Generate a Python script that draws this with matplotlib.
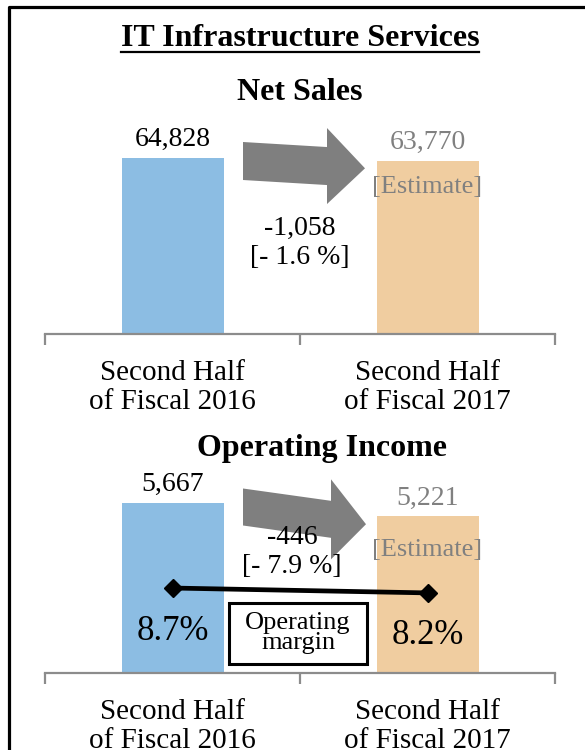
import numpy as np
import matplotlib.pyplot as plt
from matplotlib.patches import Polygon, Rectangle
from matplotlib.lines import Line2D

periods = ['Second Half\nof Fiscal 2016', 'Second Half\nof Fiscal 2017']
net_sales = [64828, 63770]
op_income = [5667, 5221]
op_margin = [8.7, 8.2]

BLUE = '#8CBDE3'
TAN = '#F0CDA0'
GREY = '#808080'
AXIS = '#8C8C8C'

plt.rcParams['font.family'] = ['Liberation Serif', 'DejaVu Serif']

W, H = 585, 750
fig = plt.figure(figsize=(W / 100, H / 100), dpi=100)


def px(x, y):
    # pixel position (origin top-left) -> figure fraction
    return x / W, 1 - y / H


def style_axis(ax):
    for s in ['top', 'left', 'right']:
        ax.spines[s].set_visible(False)
    ax.spines['bottom'].set_color(AXIS)
    ax.spines['bottom'].set_linewidth(1.6)
    ax.set_xlim(-0.5, 1.5)
    ax.set_xticks([0, 1])
    ax.set_xticklabels(periods, fontsize=21, linespacing=1.12)
    ax.set_xticks([-0.5, 0.5, 1.5], minor=True)
    ax.tick_params(axis='x', which='major', length=0, pad=19)
    ax.tick_params(axis='x', which='minor', length=8, width=1.6, color=AXIS)
    ax.set_yticks([])
    ax.patch.set_alpha(0)


def block_arrow(x0, yc, length, slope, body, head, head_len):
    xb = x0 + length - head_len
    pts = [(x0, -body), (xb, -body), (xb, -head), (x0 + length, 0),
           (xb, head), (xb, body), (x0, body)]
    pts = [px(x, yc + slope * (x - x0) + off) for x, off in pts]
    fig.patches.append(Polygon(pts, closed=True, transform=fig.transFigure,
                               fc='#7F7F7F', ec='none', zorder=1))


def bar_panel(ax, vals, est_off):
    ax.bar([0, 1], vals, width=0.4, color=[BLUE, TAN], zorder=2)
    for i, v in enumerate(vals):
        ax.annotate(f'{v:,}', (i, v), xytext=(0, 8.5), textcoords='offset points',
                    ha='center', va='baseline', fontsize=20,
                    color='black' if i == 0 else GREY)
    ax.annotate('[Estimate]', (1, vals[1]), xytext=(0, -est_off),
                textcoords='offset points', ha='center', va='center',
                fontsize=19, color=GREY)


def change_text(x, y, vals):
    d = vals[1] - vals[0]
    pct = abs(d) / vals[0] * 100
    fig.text(*px(x, y), f'{d:,}\n[- {pct:.1f} %]', ha='center', va='center',
             fontsize=20, linespacing=1.2, zorder=5)


# frame
fig.lines.append(Line2D([9 / W, 9 / W, 1], [0, 1 - 7 / H, 1 - 7 / H],
                        transform=fig.transFigure, color='black', lw=2.3))

title = fig.text(*px(300, 46), 'IT Infrastructure Services', ha='center',
                 va='baseline', fontsize=23, fontweight='bold')
fig.text(*px(300, 100), 'Net Sales', ha='center', va='baseline',
         fontsize=23, fontweight='bold')
fig.text(*px(322, 456), 'Operating Income', ha='center', va='baseline',
         fontsize=23, fontweight='bold')

# net sales
ax1 = fig.add_axes([45 / W, 1 - 334 / H, 510 / W, 217 / H])
ax1.set_ylim(0, 80000)
style_axis(ax1)
bar_panel(ax1, net_sales, 19)
block_arrow(243, 161, 122, 0.06, 19, 38, 38)
change_text(300, 243, net_sales)

# operating income
ax2 = fig.add_axes([45 / W, 1 - 673 / H, 510 / W, 210 / H])
ax2.set_ylim(0, 7000)
style_axis(ax2)
bar_panel(ax2, op_income, 24)
block_arrow(243, 507, 123, 0.14, 18.5, 40, 35)
change_text(292, 552, op_income)

axm = ax2.twinx()
axm.set_ylim(0, 21.5)
axm.axis('off')
axm.set_xlim(-0.5, 1.5)
axm.plot([0, 1], op_margin, color='black', lw=3.4, marker='D', ms=9, zorder=4)
for i, m in enumerate(op_margin):
    axm.annotate(f'{m}%', (i, m), xytext=(0, -31), textcoords='offset points',
                 ha='center', va='center', fontsize=25)

fig.patches.append(Rectangle(px(229, 664), 138 / W, 61 / H, transform=fig.transFigure,
                             fc='white', ec='black', lw=2.2, zorder=2))
fig.text(*px(298, 633), 'Operating\nmargin', ha='center', va='center',
         fontsize=19, linespacing=0.88, zorder=5)

# underline the title
fig.canvas.draw()
bb = title.get_window_extent().transformed(fig.transFigure.inverted())
ul_y = 1 - 51.5 / H
fig.lines.append(Line2D([bb.x0, bb.x1], [ul_y, ul_y], transform=fig.transFigure,
                        color='black', lw=1.6))

fig.savefig('out.png', dpi=100)
